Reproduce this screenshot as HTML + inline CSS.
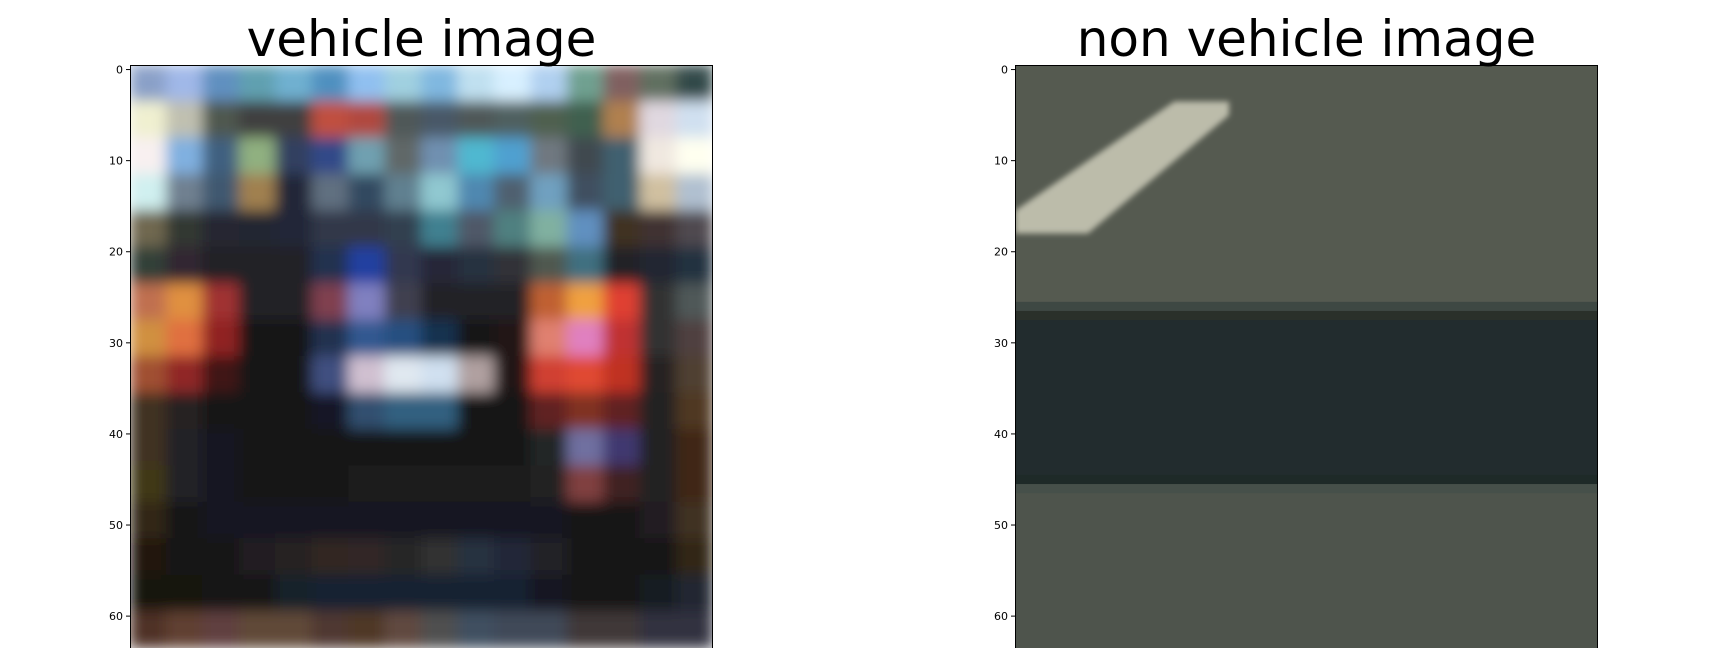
<!DOCTYPE html>
<html><head><meta charset="utf-8">
<style>
html,body{margin:0;padding:0;background:#fff;}
body{width:1728px;height:648px;overflow:hidden;position:relative;font-family:"DejaVu Sans","Liberation Sans",sans-serif;}
</style></head>
<body>
<svg id="fig" width="1728" height="648" viewBox="0 0 1728 648" xmlns="http://www.w3.org/2000/svg">
<defs>
<filter id="bl" x="0" y="0" width="1" height="1"><feGaussianBlur stdDeviation="7"/></filter>
<filter id="bl2"><feGaussianBlur stdDeviation="3"/></filter>
<clipPath id="c1"><rect x="130" y="65" width="583" height="583"/></clipPath>
<clipPath id="c2"><rect x="1015" y="65" width="583" height="583"/></clipPath>
</defs>
<g id="img1" clip-path="url(#c1)"></g>
<g id="img2" clip-path="url(#c2)"></g>
<rect x="130.5" y="65.5" width="582" height="600" fill="none" stroke="#000" stroke-width="1"/>
<rect x="1015.5" y="65.5" width="582" height="600" fill="none" stroke="#000" stroke-width="1"/>
<text x="421.5" y="56" font-size="50" text-anchor="middle" fill="#000">vehicle image</text>
<text x="1306.5" y="56" font-size="50" text-anchor="middle" fill="#000">non vehicle image</text>
<g id="ticks"></g>
</svg>
<script>
const yTicks=[0,10,20,30,40,50,60];
const nPix=64;
const vehicleGrid=[
["#8aa0c8","#a0b8e8","#6090c0","#60a0b0","#70b0d0","#5090c0","#90c0f0","#a0d0e0","#80b8e0","#c0e0f0","#d8f0ff","#b0d0f0","#70a090","#806060","#607060","#304848"],
["#f0f0d0","#c0c0b0","#505850","#404040","#404040","#c05040","#b04840","#505858","#485868","#505858","#506060","#506050","#406050","#b08050","#e0d8e0","#d0e0f0"],
["#f8f0f0","#80b0e0","#406080","#90b080","#304060","#304888","#70a0b0","#606868","#7090b0","#50b8d0","#50a0d0","#707880","#404850","#406070","#f0e8e0","#fffff0"],
["#d0f0f0","#708090","#405870","#a08050","#202838","#607080","#304860","#608090","#90c8d0","#5088b0","#506070","#70a0c0","#405060","#406070","#d0c0a0","#b0c0d0"],
["#706850","#303830","#282830","#202830","#202838","#303848","#303848","#304050","#408090","#505868","#508080","#80b0a0","#6090c0","#403020","#403030","#504850"],
["#304038","#302830","#202028","#202028","#202028","#203050","#2040a0","#303850","#282838","#283040","#303038","#505850","#407080","#202028","#202830","#203040"],
["#c07050","#e09040","#a03030","#202028","#202028","#804050","#8080c0","#404050","#202028","#202028","#202028","#c06030","#f0a040","#e04030","#303030","#505858"],
["#d09040","#e07040","#902020","#181818","#181818","#203050","#305890","#285080","#183050","#181818","#201818","#e08070","#e080c0","#c03030","#303030","#504040"],
["#a05030","#902828","#401818","#181818","#181818","#405080","#d0c0d0","#e0e8f0","#d0e0f0","#b0a0a0","#201818","#d04030","#e04830","#c03020","#282020","#504030"],
["#403020","#282020","#181818","#181818","#181818","#181828","#305070","#306080","#306080","#181818","#181818","#602020","#803020","#602020","#202020","#503820"],
["#403020","#202028","#181820","#181818","#181818","#181818","#181818","#181818","#181818","#181818","#181818","#202828","#7070a0","#403870","#202020","#402818"],
["#403818","#202028","#181820","#181818","#181818","#181818","#1a1a1a","#1a1a1a","#1a1a1a","#1a1a1a","#1a1a1a","#202020","#804040","#402020","#202020","#402818"],
["#302818","#181818","#181820","#181820","#181820","#181820","#181820","#181820","#181820","#181820","#181820","#181820","#181818","#181818","#201c20","#403020"],
["#201810","#181818","#181818","#201c20","#282420","#302820","#302828","#282828","#303030","#283040","#202838","#202028","#181818","#181818","#181818","#302818"],
["#181410","#181410","#141418","#141418","#18202c","#182030","#182030","#182030","#182030","#182030","#182030","#141820","#181818","#141418","#181c20","#202830"],
["#503028","#604030","#604040","#604838","#604838","#503830","#503828","#604840","#505050","#405060","#404858","#404858","#403838","#403838","#303040","#303040"]
];
const roadBands=[[0,26,"#555a50"],[26,27,"#3e4843"],[27,28,"#2a302a"],[28,45,"#222c2e"],[45,46,"#1e2a28"],[46,47,"#46504a"],[47,64,"#4e544c"]];
const laneMark=[[0,16],[17.5,4],[23.5,4],[23.5,5.5],[8,18.5],[0,18.5]];
const NS="http://www.w3.org/2000/svg";
const SZ=583, PX=SZ/nPix;
function sx(x0,v){return x0+v*PX;}
function sy(v){return 65+v*PX;}
const g1=document.getElementById('img1');
const blurG=document.createElementNS(NS,'g');
blurG.setAttribute('filter','url(#bl)');
g1.appendChild(blurG);
const cs=nPix/vehicleGrid.length;
vehicleGrid.forEach((row,r)=>row.forEach((c,k)=>{
  const rc=document.createElementNS(NS,'rect');
  
  
  rc.setAttribute('x',sx(130,k*cs)-0.5);rc.setAttribute('y',sy(r*cs)-0.5);
  rc.setAttribute('width',cs*PX+1);rc.setAttribute('height',cs*PX+1);
  rc.setAttribute('fill',c);blurG.appendChild(rc);
}));
const g2=document.getElementById('img2');
roadBands.forEach(b=>{
  const rc=document.createElementNS(NS,'rect');
  
  
  rc.setAttribute('x',1015);rc.setAttribute('y',sy(b[0]));
  rc.setAttribute('width',SZ);rc.setAttribute('height',(b[1]-b[0])*PX+0.5);
  rc.setAttribute('fill',b[2]);g2.appendChild(rc);
});
const pg=document.createElementNS(NS,'polygon');


pg.setAttribute('points',laneMark.map(p=>sx(1015,p[0])+','+sy(p[1])).join(' '));
pg.setAttribute('fill','#bcbcaa');
pg.setAttribute('filter','url(#bl2)');
g2.appendChild(pg);
const tg=document.getElementById('ticks');
[130,1015].forEach(x0=>{
  yTicks.forEach(v=>{
    const y=sy(v+0.5);
    const ln=document.createElementNS(NS,'line');
    
    
    ln.setAttribute('x1',x0-4);ln.setAttribute('x2',x0);ln.setAttribute('y1',y);ln.setAttribute('y2',y);
    ln.setAttribute('stroke','#000');tg.appendChild(ln);
    const t=document.createElementNS(NS,'text');
    
    
    t.setAttribute('x',x0-7);t.setAttribute('y',y+4);
    t.setAttribute('font-size','11');t.setAttribute('text-anchor','end');
    t.textContent=v;tg.appendChild(t);
  });
});
</script>
</body></html>
